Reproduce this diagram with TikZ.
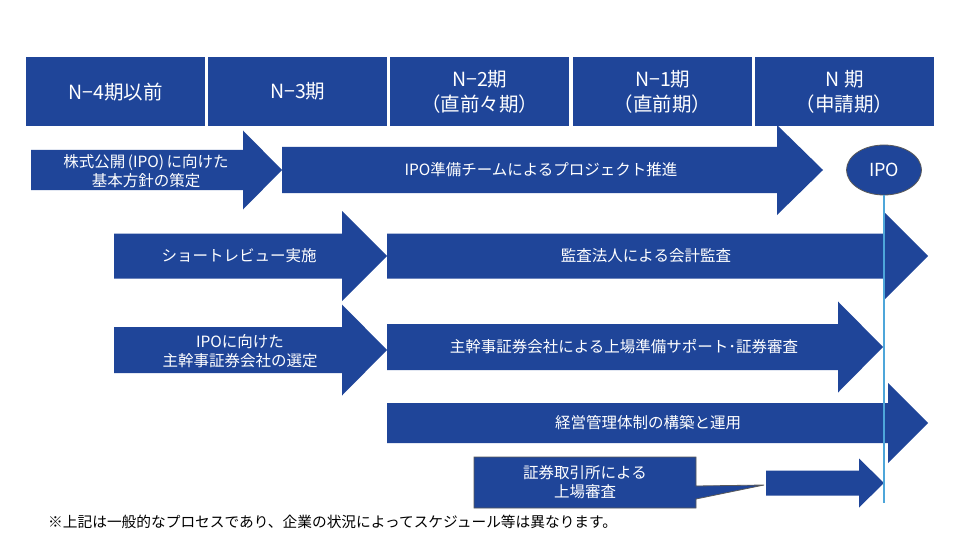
\documentclass[tikz,border=0pt]{standalone}
\usepackage{fontspec}
\usetikzlibrary{shapes.geometric}
\setmainfont{Noto Sans CJK JP}
\definecolor{ipoblue}{HTML}{1F4599}
\definecolor{ipoline}{HTML}{4EA6DA}
\definecolor{edgegray}{HTML}{5A5A5A}
% block arrow: name, x0, head base x, tip x, y centre, body half height, head half height
\newcommand\blockarr[7]{%
  \fill[blk] (#2,{#5-#6}) -- (#3,{#5-#6}) -- (#3,{#5-#7}) -- (#4,#5)
    -- (#3,{#5+#7}) -- (#3,{#5+#6}) -- (#2,{#5+#6}) -- cycle;
  \coordinate (#1) at (#4,#5);}
\begin{document}
\begin{tikzpicture}[x=1pt,y=-1pt,
  blk/.style={fill=ipoblue},
  hdr/.style={fill=ipoblue,minimum width=179pt,minimum height=69pt,inner sep=0pt,
    anchor=north west,text=white,align=center,font=\fontsize{19.5}{25}\selectfont},
  arrtext/.style={text=white,align=center,inner sep=0pt,font=\fontsize{15.5}{18.5}\selectfont},
  note/.style={text=black,inner sep=0pt,anchor=west,font=\fontsize{14.7}{18}\selectfont}]
\useasboundingbox (0,0) rectangle (960,540);
\fill[white] (0,0) rectangle (960,540);

% header
\node[hdr] (h1) at (26,57) {N−4期以前};
\node[hdr] (h2) at (208,57) {N−3期};
\node[hdr] (h3) at (390,57) {N−2期\\（直前々期）};
\node[hdr] (h4) at (573,57) {N−1期\\（直前期）};
\node[hdr] (h5) at (755,57) {N 期\\（申請期）};

% block arrows
\blockarr{a1}{31}{243}{282}{170}{20}{39.5}
\blockarr{a2}{282}{777}{823}{170}{23}{45}
\blockarr{a3}{114}{342}{387}{256}{22.5}{45}
\blockarr{a4}{387}{885}{928}{256}{22.5}{43}
\blockarr{a5}{114}{342}{387}{350}{23}{45.5}
\blockarr{a6}{387}{838}{883}{347}{23}{45.5}
\blockarr{a7}{387}{888}{928}{423}{20}{40}
\blockarr{a9}{766}{859}{884}{483}{12.5}{24.5}

% callout box
\filldraw[fill=ipoblue,draw=edgegray,line width=0.8pt]
  (474,457) -- (696,457) -- (696,486) -- (764,485) -- (696,499) -- (696,508) -- (474,508) -- cycle;

% IPO milestone
\node[ellipse,fill=ipoblue,draw=edgegray,line width=0.8pt,minimum width=75pt,minimum height=50pt,
  inner sep=0pt,text=white,font=\fontsize{18}{20}\selectfont] (ipo) at (884,170) {IPO};
\coordinate (lineend) at (884,503);
\draw[ipoline,line width=2pt] (ipo.south) -- (lineend);

% texts
\node[arrtext] (t1) at (146,171) {株式公開\,(IPO)\,に向けた\\基本方針の策定};
\node[arrtext] (t2) at (541,170) {IPO準備チームによるプロジェクト推進};
\node[arrtext] (t3) at (239,256) {ショートレビュー実施};
\node[arrtext] (t4) at (646,256) {監査法人による会計監査};
\node[arrtext] (t5) at (240,351) {IPOに向けた\\主幹事証券会社の選定};
\node[arrtext] (t6) at (624,347) {主幹事証券会社による上場準備サポート･証券審査};
\node[arrtext] (t7) at (648,423) {経営管理体制の構築と運用};
\node[arrtext] (t8) at (585,482) {証券取引所による\\上場審査};

\node[note] (fn) at (48,522) {※上記は一般的なプロセスであり、企業の状況によってスケジュール等は異なります。};
\end{tikzpicture}
\end{document}
